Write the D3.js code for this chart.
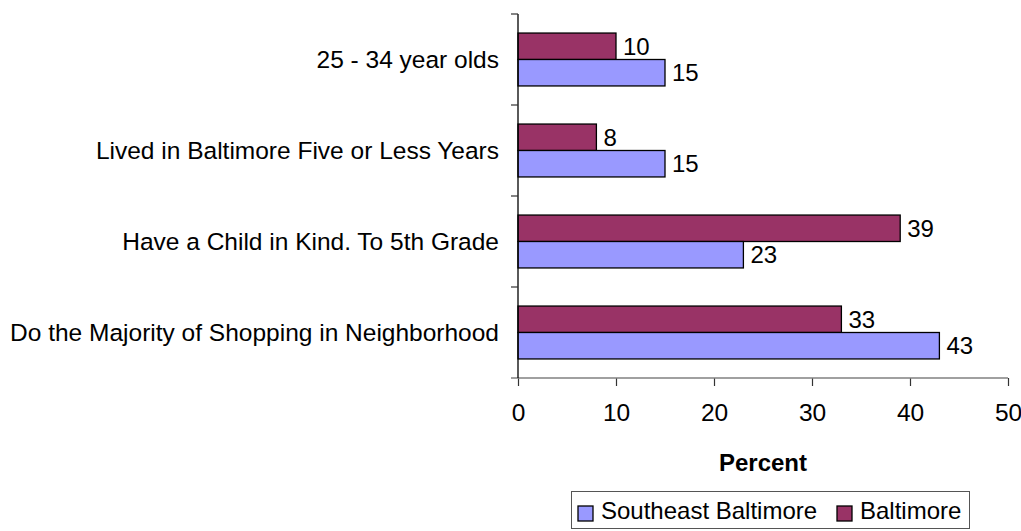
<!DOCTYPE html>
<html>
<head>
<meta charset="UTF-8">
<title>Southeast Baltimore vs Baltimore</title>
<style>
	body { margin: 0; background: white; font-family: "Liberation Sans", Arial, sans-serif; }
	svg text { fill: black; }
</style>
</head>
<body>
<svg id="chart" width="1021" height="531"></svg>
<script src="https://d3js.org/d3.v7.min.js"></script>
<script>
	// data
	let categories = ["25 - 34 year olds", "Lived in Baltimore Five or Less Years",
		"Have a Child in Kind. To 5th Grade", "Do the Majority of Shopping in Neighborhood"];
	let seriesNames = ["Baltimore", "Southeast Baltimore"];   // top bar first in each group
	let baltimore = [10, 8, 39, 33];
	let southeast = [15, 15, 23, 43];
	let xTicks = [0, 10, 20, 30, 40, 50];
	let legendOrder = ["Southeast Baltimore", "Baltimore"];

	let colors = { "Southeast Baltimore": "#9999ff", "Baltimore": "#993366" };
	let values = { "Southeast Baltimore": southeast, "Baltimore": baltimore };

	let svg = d3.select("#chart");
	let fontSize = 24;

	let x = d3.scaleLinear().domain([0, 50]).range([518, 1008]);
	let y = d3.scaleBand().domain(categories).range([14, 378]);
	let ySub = d3.scaleBand().domain(seriesNames).range([0, y.bandwidth()]).paddingOuter(0.72);

	// bars
	let rows = [];
	categories.forEach((c, i) => {
		seriesNames.forEach(s => rows.push({ cat: c, series: s, value: values[s][i] }));
	});

	svg.append("g").selectAll("rect")
		.data(rows)
		.join("rect")
		.attr("x", x(0))
		.attr("y", d => y(d.cat) + ySub(d.series))
		.attr("width", d => x(d.value) - x(0))
		.attr("height", ySub.bandwidth())
		.attr("fill", d => colors[d.series])
		.attr("stroke", "black")
		.attr("stroke-width", 1.3);

	// value labels
	svg.append("g").selectAll("text")
		.data(rows)
		.join("text")
		.attr("x", d => x(d.value) + 7)
		.attr("y", d => y(d.cat) + ySub(d.series) + ySub.bandwidth() / 2)
		.attr("dy", "0.35em")
		.style("font-size", fontSize + "px")
		.text(d => d.value);

	// x axis
	let xAxis = svg.append("g")
		.attr("transform", "translate(0,378)")
		.call(d3.axisBottom(x).tickValues(xTicks).tickSize(8).tickPadding(18).tickSizeOuter(0));
	xAxis.select(".domain").remove();
	xAxis.append("line")
		.attr("x1", 511).attr("x2", x(50))
		.attr("stroke", "#808080").attr("stroke-width", 1.3);
	xAxis.selectAll(".tick line").attr("stroke", "#333").attr("stroke-width", 1.2);
	xAxis.selectAll("text")
		.style("font-size", "24.5px")
		.style("font-family", "Liberation Sans, Arial, sans-serif")
		.attr("fill", "black");

	// y axis: category ticks sit at band edges
	let yG = svg.append("g");
	yG.append("line")
		.attr("x1", x(0)).attr("x2", x(0))
		.attr("y1", y.range()[0]).attr("y2", y.range()[1])
		.attr("stroke", "black").attr("stroke-width", 1.3);
	let edges = categories.map(c => y(c));
	yG.selectAll(".ytick")
		.data(edges)
		.join("line")
		.attr("class", "ytick")
		.attr("x1", x(0) - 7).attr("x2", x(0))
		.attr("y1", d => d).attr("y2", d => d)
		.attr("stroke", "#333").attr("stroke-width", 1.2);
	yG.selectAll(".ylab")
		.data(categories)
		.join("text")
		.attr("class", "ylab")
		.attr("x", 499)
		.attr("y", d => y(d) + y.bandwidth() / 2)
		.attr("dy", "0.35em")
		.attr("text-anchor", "end")
		.style("font-size", "24.5px")
		.text(d => d);

	// axis title
	svg.append("text")
		.attr("x", (x(0) + x(50)) / 2)
		.attr("y", 471)
		.attr("text-anchor", "middle")
		.style("font-size", fontSize + "px")
		.style("font-weight", "bold")
		.text("Percent");

	// legend
	let legend = svg.append("g");
	legend.append("rect")
		.attr("x", 571.5).attr("y", 491.5)
		.attr("width", 398).attr("height", 37)
		.attr("fill", "white")
		.attr("stroke", "#555").attr("stroke-width", 1);

	let legendX = { "Southeast Baltimore": 578, "Baltimore": 837 };
	legendOrder.forEach(s => {
		legend.append("rect")
			.attr("x", legendX[s]).attr("y", 506)
			.attr("width", 15).attr("height", 15)
			.attr("fill", colors[s])
			.attr("stroke", "black").attr("stroke-width", 1.3);
		legend.append("text")
			.attr("x", legendX[s] + 23)
			.attr("y", 519)
			.style("font-size", fontSize + "px")
			.text(s);
	});
</script>
</body>
</html>
